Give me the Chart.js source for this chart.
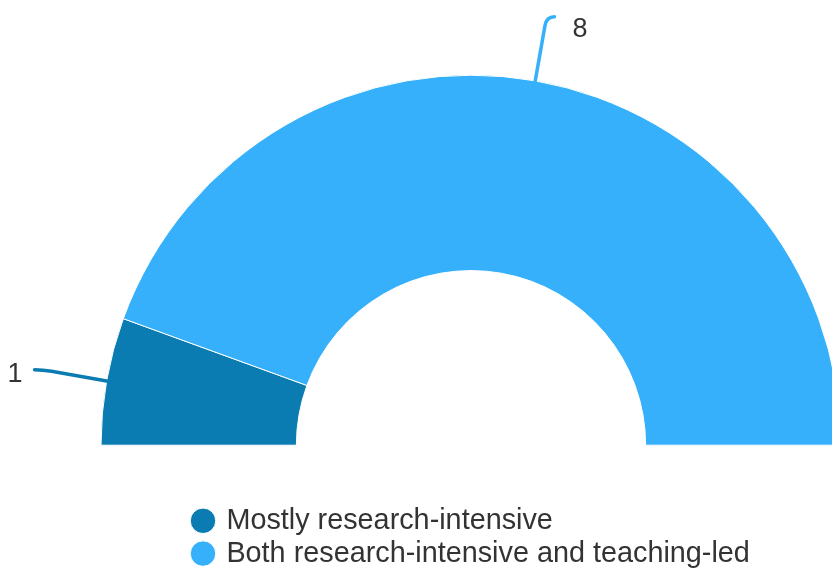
<!DOCTYPE html>
<html>
<head>
<meta charset="utf-8">
<script src="https://cdn.jsdelivr.net/npm/chart.js@4"></script>
<style>
  html, body { margin: 0; padding: 0; background: #fff; overflow: hidden; }
  #wrap { position: relative; width: 832px; height: 570px; }
</style>
</head>
<body>
<div id="wrap"><canvas id="c"></canvas></div>
<script>
// ---- data ----
const categories = ['Mostly research-intensive', 'Both research-intensive and teaching-led'];
const counts = [1, 8];
const sliceColors = ['#0b7cb2', '#36b0fa'];

const FONT = '"Liberation Sans", Arial, sans-serif';
const TEXT_COLOR = '#333333';

// data labels with curved connectors
const connectorLabels = {
  id: 'connectorLabels',
  afterDatasetsDraw(chart) {
    const ctx = chart.ctx;
    const meta = chart.getDatasetMeta(0);
    const ds = chart.data.datasets[0];
    meta.data.forEach((arc, i) => {
      const p = arc.getProps(['x', 'y', 'startAngle', 'endAngle', 'outerRadius'], true);
      const mid = (p.startAngle + p.endAngle) / 2;
      const c = Math.cos(mid), s = Math.sin(mid);
      const side = c >= 0 ? 1 : -1;
      const r0 = p.outerRadius;
      const len = 65;
      const P0 = { x: p.x + c * r0, y: p.y + s * r0 };
      const Pa = { x: p.x + c * (r0 + len - 9), y: p.y + s * (r0 + len - 9) };
      const P1 = { x: p.x + c * (r0 + len), y: p.y + s * (r0 + len) };
      const E = { x: P1.x + side * 8, y: P1.y };
      ctx.save();
      ctx.strokeStyle = ds.backgroundColor[i];
      ctx.lineWidth = 3.5;
      ctx.lineCap = 'round';
      ctx.lineJoin = 'round';
      ctx.beginPath();
      ctx.moveTo(P0.x, P0.y);
      ctx.lineTo(Pa.x, Pa.y);
      ctx.quadraticCurveTo(P1.x, P1.y, E.x, E.y);
      ctx.stroke();
      ctx.fillStyle = TEXT_COLOR;
      ctx.font = '27px ' + FONT;
      ctx.textBaseline = 'middle';
      ctx.textAlign = side > 0 ? 'left' : 'right';
      const gap = side > 0 ? 18 : 12;
      ctx.fillText(String(ds.data[i]), E.x + side * gap, E.y + 3 - 10 * s);
      ctx.restore();
    });
  }
};

new Chart(document.getElementById('c'), {
  type: 'doughnut',
  data: {
    labels: categories,
    datasets: [{
      data: counts,
      backgroundColor: sliceColors,
      borderColor: '#ffffff',
      borderWidth: 1,
      clip: false
    }]
  },
  options: {
    responsive: true,
    maintainAspectRatio: false,
    animation: false,
    rotation: -90,
    circumference: 180,
    radius: 370,
    cutout: '47.2%',
    layout: { padding: { left: 190, right: 80, top: 18, bottom: -8 } },
    plugins: {
      tooltip: { enabled: false },
      legend: {
        position: 'bottom',
        align: 'start',
        labels: {
          usePointStyle: true,
          pointStyle: 'circle',
          boxWidth: 18,
          boxHeight: 18,
          padding: 4,
          color: TEXT_COLOR,
          font: { family: FONT, size: 28.8 }
        }
      }
    }
  },
  plugins: [connectorLabels]
});
</script>
</body>
</html>
